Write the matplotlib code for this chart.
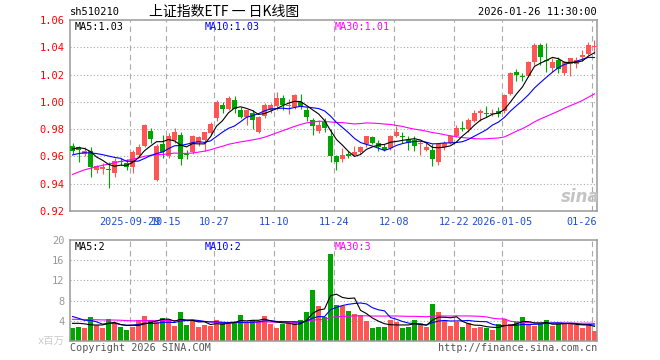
import numpy as np
import pandas as pd
import matplotlib
matplotlib.use('Agg')
import matplotlib.pyplot as plt
import matplotlib.transforms as mtransforms

# daily K data, 2025-09-15 .. 2026-01-26 (88 sessions)
open_ = [0.968, 0.967, 0.962, 0.964, 0.950, 0.951, 0.951, 0.948, 0.957, 0.955,
         0.952, 0.961, 0.968, 0.979, 0.943, 0.969, 0.960, 0.972, 0.976, 0.962,
         0.963, 0.970, 0.972, 0.977, 0.988, 0.998, 0.995, 1.001, 0.994, 0.989,
         0.992, 0.978, 0.990, 0.994, 0.997, 1.003, 0.997, 0.996, 1.000, 0.994,
         0.987, 0.979, 0.985, 0.975, 0.960, 0.958, 0.962, 0.961, 0.963, 0.969,
         0.974, 0.970, 0.967, 0.966, 0.975, 0.975, 0.972, 0.972, 0.969, 0.965,
         0.965, 0.956, 0.967, 0.970, 0.975, 0.981, 0.980, 0.986, 0.992, 0.992,
         0.991, 0.993, 0.993, 1.006, 1.022, 1.019, 1.019, 1.029, 1.042, 1.031,
         1.025, 1.031, 1.021, 1.028, 1.028, 1.033, 1.035, 1.040]
high = [0.970, 0.968, 0.967, 0.967, 0.954, 0.955, 0.956, 0.959, 0.959, 0.958,
        0.965, 0.969, 0.984, 0.981, 0.969, 0.976, 0.977, 0.981, 0.978, 0.965,
        0.976, 0.975, 0.978, 0.985, 1.001, 1.000, 1.004, 1.004, 0.996, 0.994,
        0.994, 0.990, 0.999, 0.999, 1.007, 1.005, 1.002, 1.006, 1.006, 0.996,
        0.988, 0.987, 0.988, 0.980, 0.961, 0.966, 0.964, 0.968, 0.968, 0.975,
        0.975, 0.972, 0.969, 0.976, 0.982, 0.978, 0.975, 0.975, 0.971, 0.970,
        0.969, 0.970, 0.971, 0.976, 0.983, 0.986, 0.988, 0.994, 0.995, 0.997,
        0.995, 0.996, 1.006, 1.022, 1.024, 1.021, 1.030, 1.043, 1.043, 1.043,
        1.032, 1.033, 1.030, 1.032, 1.033, 1.038, 1.044, 1.045]
low = [0.962, 0.956, 0.960, 0.945, 0.948, 0.947, 0.937, 0.945, 0.954, 0.950,
       0.948, 0.960, 0.967, 0.970, 0.942, 0.959, 0.959, 0.970, 0.954, 0.958,
       0.962, 0.968, 0.964, 0.976, 0.986, 0.992, 0.994, 0.992, 0.988, 0.983,
       0.980, 0.977, 0.988, 0.992, 0.994, 0.994, 0.991, 0.995, 0.995, 0.986,
       0.976, 0.977, 0.978, 0.956, 0.950, 0.956, 0.959, 0.960, 0.962, 0.967,
       0.969, 0.964, 0.964, 0.965, 0.974, 0.970, 0.965, 0.964, 0.961, 0.964,
       0.953, 0.954, 0.965, 0.969, 0.974, 0.979, 0.978, 0.985, 0.986, 0.989,
       0.990, 0.989, 0.992, 1.005, 1.015, 1.015, 1.018, 1.027, 1.027, 1.022,
       1.022, 1.021, 1.020, 1.019, 1.025, 1.030, 1.034, 1.035]
close = [0.964, 0.965, 0.964, 0.952, 0.953, 0.952, 0.950, 0.957, 0.956, 0.952,
         0.963, 0.967, 0.983, 0.973, 0.968, 0.963, 0.975, 0.978, 0.958, 0.961,
         0.975, 0.974, 0.978, 0.984, 1.000, 0.995, 1.003, 0.995, 0.989, 0.994,
         0.987, 0.989, 0.998, 0.998, 1.003, 0.998, 0.998, 1.005, 0.997, 0.989,
         0.982, 0.983, 0.981, 0.960, 0.956, 0.961, 0.960, 0.963, 0.967, 0.975,
         0.970, 0.967, 0.965, 0.975, 0.978, 0.974, 0.970, 0.968, 0.970, 0.967,
         0.958, 0.969, 0.970, 0.975, 0.981, 0.980, 0.987, 0.992, 0.993, 0.991,
         0.992, 0.991, 1.005, 1.021, 1.020, 1.018, 1.029, 1.042, 1.033, 1.030,
         1.029, 1.024, 1.029, 1.032, 1.031, 1.034, 1.042, 1.041]
volume = [2.5, 2.8, 2.5, 4.8, 3.2, 2.6, 4.3, 3.5, 2.8, 2.2,
          2.8, 4.1, 5.0, 4.1, 3.8, 4.5, 4.3, 3.0, 5.8, 3.2,
          4.1, 2.8, 3.2, 3.0, 4.1, 3.5, 3.8, 3.8, 5.1, 3.7,
          4.1, 3.8, 5.0, 3.4, 2.5, 3.3, 3.5, 3.7, 4.1, 5.8,
          10.1, 6.9, 4.8, 17.3, 7.2, 6.9, 5.9, 5.3, 5.1, 3.9,
          2.5, 2.8, 2.8, 4.1, 3.7, 2.5, 2.8, 4.1, 3.5, 2.8,
          7.4, 5.8, 4.0, 3.0, 3.8, 2.8, 3.5, 2.6, 2.8, 2.5,
          2.2, 3.3, 4.3, 3.3, 3.7, 4.7, 3.2, 3.0, 3.3, 4.1,
          3.0, 3.4, 3.4, 3.4, 3.2, 2.6, 3.3, 2.0]

# 29 sessions before the window (estimated from where the MA lines start)
pre_close = [0.912, 0.915, 0.917, 0.919, 0.921, 0.924, 0.926, 0.929, 0.931, 0.934,
             0.940, 0.946, 0.951, 0.955, 0.958, 0.960, 0.962, 0.963, 0.964, 0.965,
             0.955, 0.958, 0.953, 0.958, 0.960, 0.960, 0.967, 0.963, 0.973]
pre_volume = [3.6, 4.4, 3.9, 4.2, 3.5, 4.6, 4.0, 3.8, 4.3, 4.1,
              3.7, 4.5, 3.9, 4.2, 3.8, 4.4, 4.0, 3.6, 4.3, 3.7,
              6.3, 6.5, 4.8, 6.2, 7.2, 2.8, 3.0, 5.8, 3.4]

date_idx = [10, 16, 24, 34, 44, 54, 64, 72, 87]
date_labels = ['2025-09-29', '10-15', '10-27', '11-10', '11-24', '12-08', '12-22', '2026-01-05', '01-26']
price_ticks = [0.92, 0.94, 0.96, 0.98, 1.00, 1.02, 1.04, 1.06]
vol_ticks = [4, 8, 12, 16, 20]

RED = '#ff5555'
GREEN = '#00a600'
GRID = '#aaaaaa'

plt.rcParams['font.family'] = ['DejaVu Sans Mono', 'Noto Sans CJK SC']

o = np.array(open_)
h = np.array(high)
l = np.array(low)
c = np.array(close)
v = np.array(volume)
idx = np.arange(len(c))
colors = np.where(c > o, RED, GREEN)


def ma(pre, vals, n):
    s = pd.Series(np.concatenate([pre, vals]))
    return s.rolling(n).mean().to_numpy()[len(pre):]


W, H = 660, 360
fig = plt.figure(figsize=(6.6, 3.6), dpi=100)


def box(x0, y0, x1, y1):
    return [x0 / W, 1 - y1 / H, (x1 - x0) / W, (y1 - y0) / H]


def ftext(x, y, s, **kw):
    fig.text(x / W, 1 - y / H, s, va='center', **kw)


ax = fig.add_axes(box(70, 20, 597, 211))
axv = fig.add_axes(box(70, 240, 597, 341))
xlim = (-0.417, len(c) - 1 + 0.417)
grid_x = [i - 0.417 for i in date_idx]

for a in (ax, axv):
    a.set_xlim(*xlim)
    for sp in a.spines.values():
        sp.set_color('#999999')
        sp.set_linewidth(1.1)
    a.set_xticks([])
    for gx in grid_x:
        a.axvline(gx, color=GRID, lw=0.8, ls=(0, (5, 3.5)), zorder=0)

# price panel
ax.set_ylim(0.92, 1.06)
ax.set_yticks(price_ticks)
ax.set_yticklabels([f'{t:.2f}' for t in price_ticks], color='#ff0000', fontsize=7.5)
ax.tick_params(axis='y', length=0, pad=4)
for t in price_ticks[1:-1]:
    ax.axhline(t, color=GRID, lw=0.8, ls=(0, (1, 2)), zorder=0)

ax.vlines(idx, l, h, colors=colors, lw=0.8, zorder=2)
ax.bar(idx, np.maximum(np.abs(c - o), 0.0008), bottom=np.minimum(o, c),
       width=0.83, color=colors, lw=0, zorder=3)
ax.plot(idx, ma(pre_close, c, 30), color='#ff00ff', lw=0.8, zorder=4)
ax.plot(idx, ma(pre_close, c, 10), color='#0000ff', lw=0.8, zorder=4)
ax.plot(idx, ma(pre_close, c, 5), color='#000000', lw=0.8, zorder=4)

tr = mtransforms.blended_transform_factory(ax.transData, ax.transAxes)
for gx, lab in zip(grid_x[:-1], date_labels[:-1]):
    ax.text(gx, -0.058, lab, transform=tr, ha='center', va='center', color='#1f4fd0', fontsize=7.3)
ax.text(1.0, -0.058, date_labels[-1], transform=ax.transAxes, ha='right', va='center',
        color='#1f4fd0', fontsize=7.3)

# volume panel
axv.set_ylim(0, 20)
axv.set_yticks(vol_ticks)
axv.set_yticklabels([str(t) for t in vol_ticks], color='#999999', fontsize=7.5)
axv.tick_params(axis='y', length=0, pad=4)
for t in vol_ticks[:-1]:
    axv.axhline(t, color=GRID, lw=0.8, ls=(0, (1, 2)), zorder=0)
axv.bar(idx, v, width=0.83, color=colors, lw=0, zorder=2)
axv.plot(idx, ma(pre_volume, v, 30), color='#ff00ff', lw=0.8, zorder=4)
axv.plot(idx, ma(pre_volume, v, 10), color='#0000ff', lw=0.8, zorder=4)
axv.plot(idx, ma(pre_volume, v, 5), color='#000000', lw=0.8, zorder=4)

# texts
ftext(70, 12, 'sh510210', fontsize=7.5, color='#000000')
ftext(224, 12, '上证指数ETF 一 日K线图', fontsize=10, ha='center', color='#000000',
      family=['Noto Sans CJK SC'])
ftext(597, 12, '2026-01-26 11:30:00', fontsize=7.5, ha='right', color='#000000')
ftext(75, 27, 'MA5:1.03', fontsize=7.3, color='#000000')
ftext(205, 27, 'MA10:1.03', fontsize=7.3, color='#0000ff')
ftext(335, 27, 'MA30:1.01', fontsize=7.3, color='#ff00ff')
ftext(75, 247, 'MA5:2', fontsize=7.3, color='#000000')
ftext(205, 247, 'MA10:2', fontsize=7.3, color='#0000ff')
ftext(335, 247, 'MA30:3', fontsize=7.3, color='#ff00ff')
ftext(65, 341, 'x百万', fontsize=7.5, ha='right', color='#cccccc')
ftext(70, 348, 'Copyright 2026 SINA.COM', fontsize=7.3, color='#555555')
ftext(597, 348, 'http://finance.sina.com.cn', fontsize=7.3, ha='right', color='#555555')
ftext(580, 197, 'sina', fontsize=12, ha='center', color='#c4c4c4',
      family=['DejaVu Sans'], style='italic', weight='bold')

fig.savefig('out.png', dpi=100)
